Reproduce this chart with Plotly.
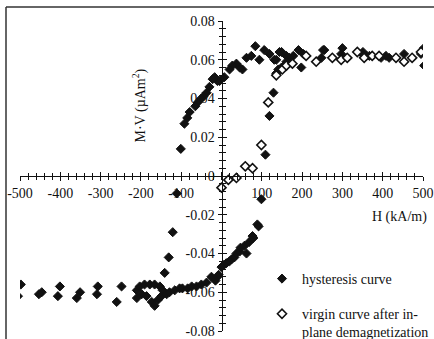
import plotly.graph_objects as go

# ---- data ----
hyst_x = [502, 503, 495, 453, 416, 408, 396, 367, 359, 351, 349, 300, 297, 255, 252, 248,
          203, 198, 191, 178, 168, 161, 149, 144, 136, 131, 119, 106, 94, 84, 74, 62, 52,
          45, 37, 27, 20, 7, -5, -10, -17, -22, -30, -37, -45, -50, -59, -65, -79, -85,
          -92, -101, -111, -121, -131, -141,
          -210, -203, -191, -178, -166, -153, -146,
          -210, -198, -186, -173, -166, -158, -149,
          -136, -129, -116, -104, -97, -84, -74, -62, -50, -37, -25, -15, -10,
          -248, -260, -307, -309, -351, -359, -401, -406, -446, -453, -498, -505,
          -7, 0, 5, 12, 20, 25, 32, 37, 45, 47, 57, 62, 69, 77, 79, 89, 92, 99,
          109, 119, 129, 136, 141, 149, 156, 161]
hyst_y = [0.066, 0.057, 0.063, 0.063, 0.061, 0.062, 0.061, 0.062, 0.062, 0.064, 0.063, 0.066,
          0.063, 0.065, 0.065, 0.061, 0.063, 0.056, 0.065, 0.062, 0.061, 0.062, 0.064, 0.064,
          0.060, 0.060, 0.063, 0.065, 0.060, 0.067, 0.062, 0.061, 0.055, 0.056, 0.058, 0.057,
          0.055, 0.051, 0.049, 0.049, 0.051, 0.050, 0.046, 0.043, 0.041, 0.040, 0.038, 0.036,
          0.033, 0.030, 0.027, 0.014, -0.009, -0.029, -0.042, -0.050,
          -0.059, -0.057, -0.056, -0.056, -0.056, -0.057, -0.059,
          -0.063, -0.061, -0.062, -0.065, -0.067, -0.064, -0.062,
          -0.061, -0.060, -0.059, -0.058, -0.058, -0.058, -0.057, -0.057, -0.056, -0.055,
          -0.052, -0.054, -0.052,
          -0.057, -0.065, -0.057, -0.061, -0.060, -0.063, -0.057, -0.062, -0.060, -0.061,
          -0.056, -0.062,
          -0.051, -0.047, -0.046, -0.045, -0.044, -0.043, -0.042, -0.040, -0.039, -0.037,
          -0.036, -0.040, -0.034, -0.031, -0.032, -0.025, -0.026, -0.012,
          0.011, 0.031, 0.043, 0.053, 0.055, 0.056, 0.057, 0.059]

virgin_x = [0, 17, 37, 59, 77, 99, 116, 136, 151, 161, 176, 210, 235, 275, 297, 312,
            337, 354, 374, 391, 433, 453, 473, 495]
virgin_y = [-0.006, -0.002, -0.001, 0.005, 0.004, 0.016, 0.038, 0.052, 0.055, 0.057, 0.058,
            0.062, 0.059, 0.061, 0.060, 0.061, 0.064, 0.061, 0.062, 0.062, 0.061, 0.059,
            0.061, 0.064]

x_tick_vals = [-500, -400, -300, -200, -100, 100, 200, 300, 400, 500]
x_tick_text = ["-500", "-400", "-300", "-200", "-100", "100", "200", "300", "400", "500"]
y_tick_vals = [0.08, 0.06, 0.04, 0.02, 0, -0.02, -0.04, -0.06, -0.08]
y_tick_text = ["0.08", "0.06", "0.04", "0.02", "0", "-0.02", "-0.04", "-0.06", "-0.08"]

# ---- layout geometry ----
W, H = 434, 339
L, R, T, B = 20, 11, 21, 8


def px(xp):
    return (xp - L) / (W - L - R)


def py(yp):
    return (H - B - yp) / (H - T - B)


FONT = "Liberation Serif"
INK = "#111111"

fig = go.Figure()
fig.add_trace(go.Scatter(
    x=hyst_x, y=hyst_y, mode="markers", name="hysteresis curve",
    legendgroup="a",
    marker=dict(symbol="diamond", size=7, color=INK, line=dict(color=INK, width=1)),
))
fig.add_trace(go.Scatter(
    x=virgin_x, y=virgin_y, mode="markers",
    name="virgin curve after in-<br>plane demagnetization",
    legendgroup="b",
    marker=dict(symbol="diamond", size=7, color="white", line=dict(color=INK, width=1.6)),
))
# empty trace so the overlay axes (inner half of the crossing ticks) exist
fig.add_trace(go.Scatter(x=[], y=[], xaxis="x2", yaxis="y2", showlegend=False,
                         hoverinfo="skip"))

axis_common = dict(showgrid=False, zeroline=False, linecolor=INK, tickcolor=INK,
                   tickwidth=1, automargin=False, ticklabeloverflow="allow",
                   tickfont=dict(family=FONT, size=14, color=INK))

fig.update_layout(
    width=W, height=H,
    margin=dict(l=L, r=R, t=T, b=B, pad=0, autoexpand=False),
    paper_bgcolor="white", plot_bgcolor="white",
    font=dict(family=FONT, size=14, color=INK),
    xaxis=dict(range=[-500, 500], domain=[0, 1], anchor="free", position=0.5,
               showline=True, linewidth=1, ticks="outside", ticklen=4,
               tickvals=x_tick_vals, ticktext=x_tick_text,
               minor=dict(dtick=20, tick0=0, ticks="outside", ticklen=3, tickcolor=INK),
               **axis_common),
    yaxis=dict(range=[-0.08, 0.08], domain=[0, 1], anchor="free", position=0.5,
               showline=True, linewidth=1, ticks="outside", ticklen=4,
               tickvals=y_tick_vals, ticktext=y_tick_text,
               minor=dict(dtick=0.004, tick0=0, ticks="outside", ticklen=3, tickcolor=INK),
               **axis_common),
    xaxis2=dict(range=[-500, 500], overlaying="x", anchor="free", position=0.5,
                showline=False, ticks="inside", ticklen=4, showticklabels=False,
                tickvals=x_tick_vals + [0],
                minor=dict(dtick=20, tick0=0, ticks="inside", ticklen=3, tickcolor=INK),
                **axis_common),
    yaxis2=dict(range=[-0.08, 0.08], overlaying="y", anchor="free", position=0.5,
                showline=False, ticks="inside", ticklen=4, showticklabels=False,
                tickvals=y_tick_vals,
                minor=dict(dtick=0.004, tick0=0, ticks="inside", ticklen=3, tickcolor=INK),
                **axis_common),
    legend=dict(x=px(262), y=py(263), xanchor="left", yanchor="top",
                font=dict(family=FONT, size=14, color=INK),
                bgcolor="rgba(0,0,0,0)", borderwidth=0,
                tracegroupgap=14, valign="top", itemwidth=30),
    showlegend=True,
    annotations=[
        dict(text="M·V (µAm<sup>2</sup>)", x=px(128), y=py(67), xref="paper", yref="paper",
             textangle=-90, showarrow=False, font=dict(family=FONT, size=14, color=INK)),
        dict(text="H (kA/m)", x=px(429), y=py(217), xref="paper", yref="paper",
             xanchor="right", showarrow=False, font=dict(family=FONT, size=14, color=INK)),
    ],
    shapes=[
        dict(type="line", xref="paper", yref="paper", x0=px(6), y0=py(7), x1=px(434), y1=py(7),
             line=dict(color="#333333", width=1.5)),
        dict(type="line", xref="paper", yref="paper", x0=px(6), y0=py(7), x1=px(6), y1=py(339),
             line=dict(color="#333333", width=1.5)),
    ],
)

fig.write_html("out.html")
